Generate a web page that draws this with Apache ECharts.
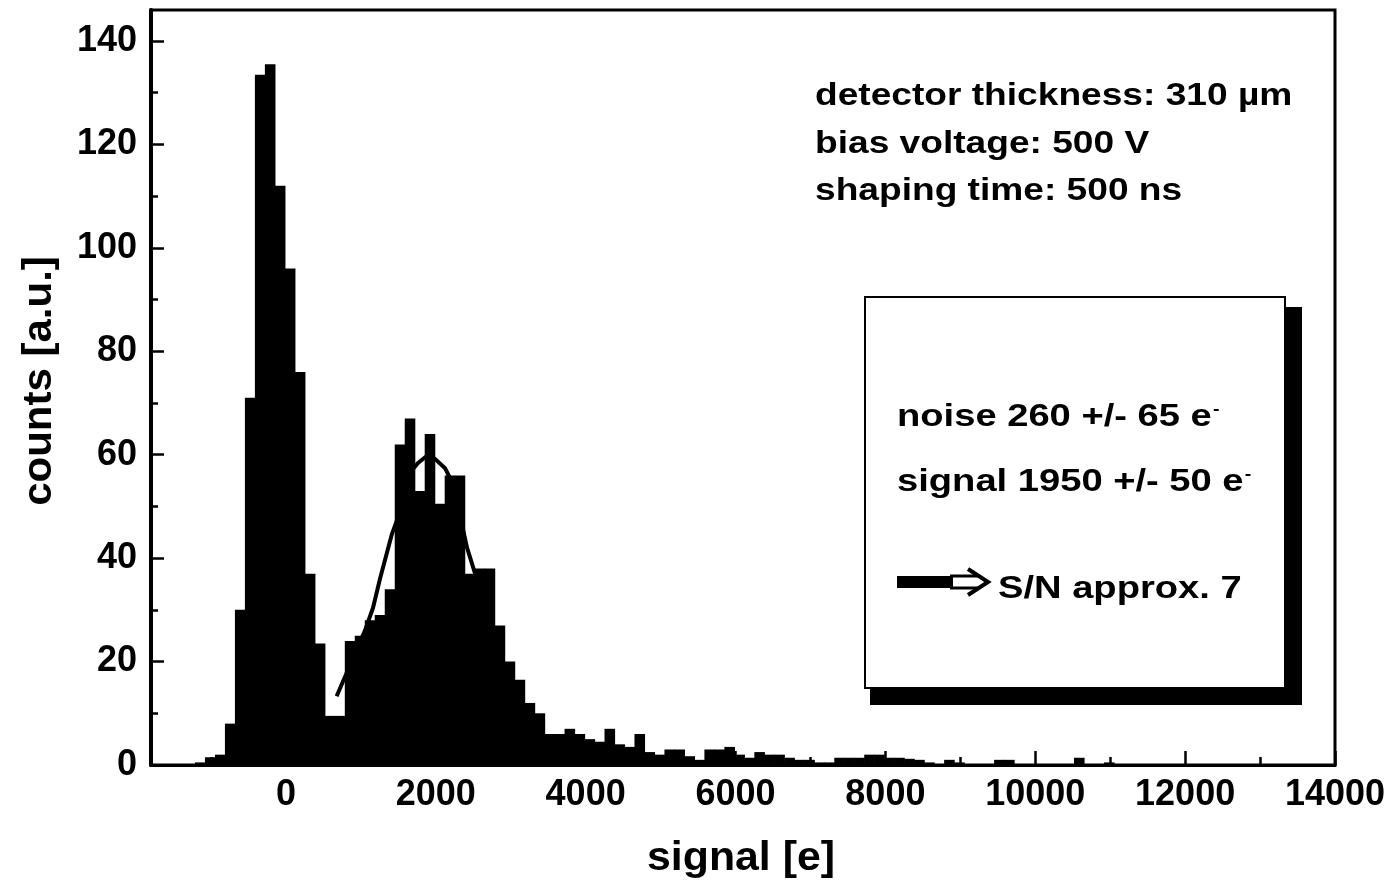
<!DOCTYPE html>
<html>
<head>
<meta charset="utf-8">
<script src="https://cdn.jsdelivr.net/npm/echarts@6/dist/echarts.min.js"></script>
<style>
  html, body { margin: 0; padding: 0; background: #ffffff; }
  #chart { width: 1391px; height: 887px; }
</style>
</head>
<body>
<div id="chart"></div>
<script>
// Histogram binning (signal in electrons)
const binStart = -1480;
const binWidth = 133.3;

// Counts per bin, starting at binStart
const counts = [
  0, 0, 0.5, 1.5, 2, 8, 30, 71, 133.5, 135.5,
  112, 96, 76, 37, 23.5, 9.5, 9.5, 24, 25, 28,
  29, 34, 62, 67, 53, 64, 50.5, 56, 56, 37,
  38, 38, 27, 20, 16.5, 12, 10, 6, 6, 7,
  6, 5, 4.5, 7, 4, 3.5, 6, 2.5, 2, 3,
  3, 1.7, 1, 3, 3, 3.5, 2, 1.4, 2.5, 2,
  2, 1.4, 1, 1, 0.5, 0.5, 1.4, 1.4, 1.4, 2,
  2, 1.4, 1.4, 1.2, 1, 0.5, 0, 1, 0.5, 0,
  0, 0, 1, 1, 0, 0, 0, 0, 0, 0,
  1.4, 0, 0, 0.5, 0, 0, 0, 0, 0, 0,
  0, 0, 0, 0, 0, 0, 0, 0, 0, 0,
  0, 0, 0, 0, 0, 0
];

// Fitted curve over the signal peak: [signal, counts]
const fitCurve = [
  [677, 13.3], [1055, 26], [1163, 30.4], [1256, 36], [1416, 44.7],
  [1550, 50], [1656, 56.5], [1763, 58.4], [1883, 59.8], [1990, 59.2],
  [2124, 57.4], [2231, 54.3], [2418, 42], [2525, 37]
];

// Axis ticks
const xMajorTicks = [0, 2000, 4000, 6000, 8000, 10000, 12000, 14000];
const xMinorTicks = [-1000, 1000, 3000, 5000, 7000, 9000, 11000, 13000];
const yMajorTicks = [0, 20, 40, 60, 80, 100, 120, 140];
const yMinorTicks = [10, 30, 50, 70, 90, 110, 130];

const FONT = '"Liberation Sans", Arial, Helvetica, sans-serif';

const histData = counts.map((c, i) => [binStart + i * binWidth, binStart + (i + 1) * binWidth, c]);

const chart = echarts.init(document.getElementById('chart'), null, { renderer: 'canvas' });

const axisCommon = {
  type: 'value',
  splitLine: { show: false },
  minorTick: { show: false },
  minorSplitLine: { show: false }
};

chart.setOption({
  animation: false,
  backgroundColor: '#ffffff',
  grid: {
    left: 151, right: 56, top: 10, bottom: 122,
    show: true, borderColor: '#000', borderWidth: 3, backgroundColor: 'transparent'
  },
  xAxis: [
    Object.assign({}, axisCommon, {
      min: -1800, max: 14000,
      axisLine: { show: true, onZero: false, lineStyle: { color: '#000', width: 3 } },
      axisTick: { show: true, inside: true, length: 14, customValues: xMajorTicks, lineStyle: { color: '#000', width: 2.5 } },
      axisLabel: { show: true, customValues: xMajorTicks, formatter: v => String(v), color: '#000', fontSize: 36, fontWeight: 'bold', fontFamily: FONT, margin: 12 }
    }),
    Object.assign({}, axisCommon, {
      min: -1800, max: 14000, position: 'bottom',
      axisLine: { show: false, onZero: false },
      axisTick: { show: true, inside: true, length: 8, customValues: xMinorTicks, lineStyle: { color: '#000', width: 2.5 } },
      axisLabel: { show: false }
    })
  ],
  yAxis: [
    Object.assign({}, axisCommon, {
      min: 0, max: 146,
      axisLine: { show: true, onZero: false, lineStyle: { color: '#000', width: 4 } },
      axisTick: { show: true, inside: true, length: 13, customValues: yMajorTicks, lineStyle: { color: '#000', width: 2.5 } },
      axisLabel: { show: true, customValues: yMajorTicks, formatter: v => String(v), color: '#000', fontSize: 36, fontWeight: 'bold', fontFamily: FONT, margin: 14 }
    }),
    Object.assign({}, axisCommon, {
      min: 0, max: 146, position: 'left',
      axisLine: { show: false, onZero: false },
      axisTick: { show: true, inside: true, length: 7, customValues: yMinorTicks, lineStyle: { color: '#000', width: 2.5 } },
      axisLabel: { show: false }
    })
  ],
  series: [
    {
      name: 'histogram',
      type: 'custom',
      xAxisIndex: 0,
      yAxisIndex: 0,
      data: histData,
      encode: { x: [0, 1], y: 2 },
      renderItem: function (params, api) {
        const p0 = api.coord([api.value(0), 0]);
        const p1 = api.coord([api.value(1), api.value(2)]);
        return {
          type: 'rect',
          shape: { x: p0[0], y: p1[1], width: p1[0] - p0[0] + 0.6, height: p0[1] - p1[1] },
          style: { fill: '#000' }
        };
      },
      z: 2
    },
    {
      name: 'fit',
      type: 'line',
      xAxisIndex: 0,
      yAxisIndex: 0,
      data: fitCurve,
      showSymbol: false,
      symbol: 'none',
      lineStyle: { color: '#000', width: 4 },
      z: 3
    }
  ],
  graphic: [
    // measurement conditions
    { type: 'text', x: 815, y: 96, scaleX: 1.16, z: 10,
      style: { text: 'detector thickness: 310 µm', fill: '#000', fontSize: 32, fontWeight: 'bold', fontFamily: FONT, align: 'left', verticalAlign: 'middle' } },
    { type: 'text', x: 815, y: 144, scaleX: 1.16, z: 10,
      style: { text: 'bias voltage: 500 V', fill: '#000', fontSize: 32, fontWeight: 'bold', fontFamily: FONT, align: 'left', verticalAlign: 'middle' } },
    { type: 'text', x: 815, y: 191, scaleX: 1.16, z: 10,
      style: { text: 'shaping time: 500 ns', fill: '#000', fontSize: 32, fontWeight: 'bold', fontFamily: FONT, align: 'left', verticalAlign: 'middle' } },

    // result box with drop shadow
    { type: 'rect', z: 10, shape: { x: 870, y: 307, width: 432, height: 398 }, style: { fill: '#000' } },
    { type: 'rect', z: 11, shape: { x: 865, y: 297, width: 420, height: 391 }, style: { fill: '#fff', stroke: '#000', lineWidth: 2 } },
    { type: 'text', x: 897, y: 417, scaleX: 1.23, z: 12,
      style: { text: 'noise 260 +/- 65 e{sup|-}', fill: '#000', fontSize: 31, fontWeight: 'bold', fontFamily: FONT, align: 'left', verticalAlign: 'middle',
        rich: { sup: { fontSize: 16, fontWeight: 'bold', fontFamily: FONT, fill: '#000', verticalAlign: 'top', padding: [0, 0, 14, 1] } } } },
    { type: 'text', x: 897, y: 482, scaleX: 1.23, z: 12,
      style: { text: 'signal 1950 +/- 50 e{sup|-}', fill: '#000', fontSize: 31, fontWeight: 'bold', fontFamily: FONT, align: 'left', verticalAlign: 'middle',
        rich: { sup: { fontSize: 16, fontWeight: 'bold', fontFamily: FONT, fill: '#000', verticalAlign: 'top', padding: [0, 0, 14, 1] } } } },
    // arrow
    { type: 'rect', z: 12, shape: { x: 897, y: 576, width: 56, height: 12 }, style: { fill: '#000' } },
    { type: 'polyline', z: 12, shape: { points: [[950, 576], [980, 576]] }, style: { stroke: '#000', lineWidth: 3, fill: null } },
    { type: 'polyline', z: 12, shape: { points: [[950, 588], [980, 588]] }, style: { stroke: '#000', lineWidth: 3, fill: null } },
    { type: 'polyline', z: 12, shape: { points: [[968, 569], [988, 582], [968, 595]] }, style: { stroke: '#000', lineWidth: 4, fill: null } },
    { type: 'text', x: 998, y: 589, scaleX: 1.23, z: 12,
      style: { text: 'S/N approx. 7', fill: '#000', fontSize: 31, fontWeight: 'bold', fontFamily: FONT, align: 'left', verticalAlign: 'middle' } },

    // axis titles
    { type: 'text', x: 741, y: 859, scaleX: 1.07, z: 10,
      style: { text: 'signal [e]', fill: '#000', fontSize: 40, fontWeight: 'bold', fontFamily: FONT, align: 'center', verticalAlign: 'middle' } },
    { type: 'text', x: 40, y: 381, rotation: Math.PI / 2, scaleX: 1.05, z: 10,
      style: { text: 'counts [a.u.]', fill: '#000', fontSize: 40, fontWeight: 'bold', fontFamily: FONT, align: 'center', verticalAlign: 'middle' } }
  ]
});
</script>
</body>
</html>
